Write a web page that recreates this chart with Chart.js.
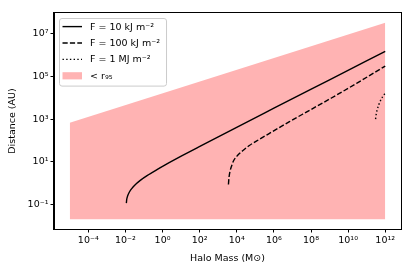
<!DOCTYPE html>
<html lang="en">
<head>
  <meta charset="UTF-8">
  <title>Distance vs halo mass</title>
  <script src="https://cdn.jsdelivr.net/npm/chart.js"></script>
  <style>
    html, body {
      margin: 0;
      padding: 0;
      background: #ffffff;
    }
    .wrap {
      width: 415px;
      height: 277px;
    }
  </style>
</head>
<body>
  <div class="wrap"><canvas id="miCanvas" width="415" height="277"></canvas></div>

  <script>
    // curves: halo mass (M_sun) and distance (AU)
    const massLow = [0.0112, 0.01175, 0.0132, 0.0158, 0.0224, 0.0316, 0.0631, 0.166, 0.501, 1.318, 10.7, 85.1, 1000, 1e6, 1e9, 1e12];
    const distLow = [0.1135, 0.172, 0.251, 0.359, 0.562, 0.791, 1.327, 2.371, 4.256, 6.90, 18.66, 48.4, 147.6, 3236, 70000, 1.514e6];

    const massMid = [3548, 3802, 4365, 5370, 6607, 11220, 19950, 47860, 158500, 575400, 6.92e6, 8.32e7, 1.259e9, 3.162e10, 1e12];
    const distMid = [0.851, 1.778, 3.63, 6.61, 10.7, 19.95, 31.6, 57.5, 109.6, 213.8, 758.6, 2570, 9772, 50120, 309000];

    const massHigh = [3.02e11, 3.31e11, 3.72e11, 4.47e11, 5.62e11, 7.59e11, 1e12];
    const distHigh = [1000, 1778, 2818, 4677, 7586, 11750, 16600];

    // shaded region (< r95)
    const massRegion = [1e-5, 1e12];
    const distRegionTop = [676, 3.3e7];
    const distRegionBottom = 0.02;

    const labels = ["F = 10 kJ m\u207B\u00B2", "F = 100 kJ m\u207B\u00B2", "F = 1 MJ m\u207B\u00B2", "< r\u2089\u2085"];

    const xTicks = [1e-4, 1e-2, 1e0, 1e2, 1e4, 1e6, 1e8, 1e10, 1e12];
    const yTicks = [1e-1, 1e1, 1e3, 1e5, 1e7];

    const sup = { "0": "\u2070", "1": "\u00B9", "2": "\u00B2", "3": "\u00B3", "4": "\u2074",
      "5": "\u2075", "6": "\u2076", "7": "\u2077", "8": "\u2078", "9": "\u2079", "-": "\u207B" };
    const pow10 = v => {
      const e = Math.round(Math.log10(v));
      return "10" + String(e).split("").map(c => sup[c]).join("");
    };

    const pts = (xs, ys) => xs.map((x, i) => ({ x: x, y: ys[i] }));

    const FONT = "'DejaVu Sans', sans-serif";

    // draws the box round the plot and a matplotlib-like legend inside it
    const frameAndLegend = {
      id: "frameAndLegend",
      afterDraw(chart) {
        const ctx = chart.ctx;
        const a = chart.chartArea;
        ctx.save();
        ctx.strokeStyle = "#000";
        ctx.lineWidth = 1;
        ctx.strokeRect(Math.round(a.left) - 0.5, Math.round(a.top) - 0.5,
          Math.round(a.right - a.left) + 1, Math.round(a.bottom - a.top) + 1);

        ctx.font = "9.5px " + FONT;
        const items = chart.data.datasets;
        let maxW = 0;
        items.forEach(d => { maxW = Math.max(maxW, ctx.measureText(d.label).width); });
        const bx = a.left + 5, by = a.top + 5;
        const rowH = 16.4;
        const bw = 31 + maxW + 6, bh = rowH * items.length + 2;
        ctx.beginPath();
        ctx.roundRect(bx + 0.5, by + 0.5, bw, bh, 2.5);
        ctx.fillStyle = "rgba(255,255,255,0.8)";
        ctx.fill();
        ctx.strokeStyle = "#cccccc";
        ctx.lineWidth = 1;
        ctx.stroke();

        items.forEach((d, i) => {
          const cy = by + 8.6 + i * rowH;
          if (d.fill) {
            ctx.fillStyle = d.backgroundColor;
            ctx.fillRect(bx + 3.5, cy - 3.6, 19.5, 7.2);
          } else {
            ctx.beginPath();
            ctx.setLineDash(d.borderDash || []);
            ctx.lineWidth = d.borderWidth;
            ctx.strokeStyle = d.borderColor;
            ctx.moveTo(bx + 3.5, cy);
            ctx.lineTo(bx + 23, cy);
            ctx.stroke();
            ctx.setLineDash([]);
          }
          ctx.fillStyle = "#000";
          ctx.textBaseline = "middle";
          ctx.textAlign = "left";
          ctx.fillText(d.label, bx + 31, cy + 0.5);
        });
        ctx.restore();
      }
    };

    const tickCfg = {
      display: true,
      drawOnChartArea: false,
      drawTicks: true,
      tickLength: 3.5,
      tickWidth: 1,
      color: "#000"
    };

    const ctx = document.getElementById("miCanvas").getContext("2d");
    new Chart(ctx, {
      type: "line",
      data: {
        datasets: [
          {
            label: labels[0],
            data: pts(massLow, distLow),
            borderColor: "#000",
            borderWidth: 1.4,
            pointRadius: 0,
            cubicInterpolationMode: "monotone",
            fill: false
          },
          {
            label: labels[1],
            data: pts(massMid, distMid),
            borderColor: "#000",
            borderWidth: 1.4,
            borderDash: [5.2, 2.2],
            pointRadius: 0,
            cubicInterpolationMode: "monotone",
            fill: false
          },
          {
            label: labels[2],
            data: pts(massHigh, distHigh),
            borderColor: "#000",
            borderWidth: 1.4,
            borderDash: [1.4, 2.3],
            pointRadius: 0,
            cubicInterpolationMode: "monotone",
            fill: false
          },
          {
            label: labels[3],
            data: pts(massRegion, distRegionTop),
            borderWidth: 0,
            borderColor: "rgba(0,0,0,0)",
            backgroundColor: "rgb(255,179,179)",
            pointRadius: 0,
            fill: { value: distRegionBottom }
          }
        ]
      },
      options: {
        responsive: false,
        animation: false,
        events: [],
        layout: { padding: { left: 7, top: 13, right: 14, bottom: 13 } },
        plugins: {
          legend: { display: false },
          tooltip: { enabled: false }
        },
        scales: {
          x: {
            type: "logarithmic",
            min: Math.pow(10, -5.85),
            max: Math.pow(10, 12.85),
            afterBuildTicks: s => { s.ticks = xTicks.map(v => ({ value: v })); },
            afterFit: s => { s.height = 35; },
            grid: tickCfg,
            border: { display: true, color: "#000", width: 1 },
            ticks: {
              autoSkip: false,
              maxRotation: 0,
              padding: 2,
              color: "#000",
              font: { family: FONT, size: 9.5 },
              callback: v => pow10(v)
            },
            title: {
              display: true,
              text: "Halo Mass (M\u2299)",
              color: "#000",
              font: { family: FONT, size: 9.5 },
              padding: { top: 2, bottom: 0 }
            }
          },
          y: {
            type: "logarithmic",
            min: Math.pow(10, -2.16),
            max: Math.pow(10, 7.98),
            afterBuildTicks: s => { s.ticks = yTicks.map(v => ({ value: v })); },
            afterFit: s => { s.width = 47; },
            grid: tickCfg,
            border: { display: true, color: "#000", width: 1 },
            ticks: {
              autoSkip: false,
              padding: 2,
              color: "#000",
              font: { family: FONT, size: 9.5 },
              callback: v => pow10(v)
            },
            title: {
              display: true,
              text: "Distance (AU)",
              color: "#000",
              font: { family: FONT, size: 9.5 },
              padding: { top: 0, bottom: 4 }
            }
          }
        }
      },
      plugins: [frameAndLegend]
    });
  </script>
</body>
</html>
